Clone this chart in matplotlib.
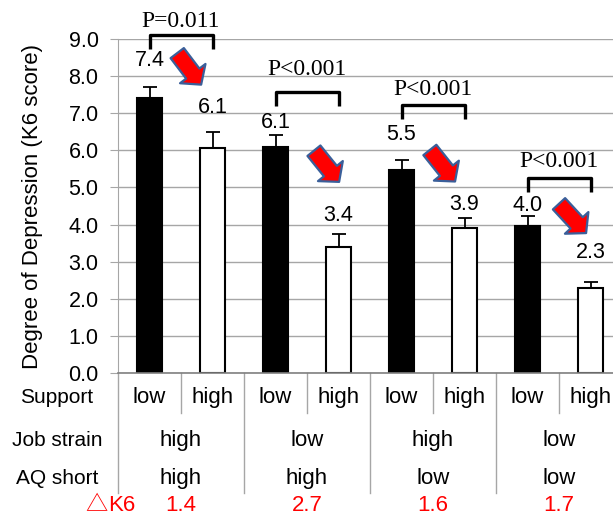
import numpy as np
import matplotlib.pyplot as plt
from matplotlib.patches import FancyArrowPatch

# data
support = ['low', 'high'] * 4
job_strain = ['high', 'low', 'high', 'low']
aq_short = ['high', 'high', 'low', 'low']
delta_k6 = ['1.4', '2.7', '1.6', '1.7']
k6_mean = [7.42, 6.07, 6.08, 3.40, 5.48, 3.90, 3.95, 2.28]
k6_err = [0.28, 0.43, 0.32, 0.35, 0.27, 0.27, 0.29, 0.17]
value_labels = ['7.4', '6.1', '6.1', '3.4', '5.5', '3.9', '4.0', '2.3']
p_labels = ['P=0.011', 'P<0.001', 'P<0.001', 'P<0.001']

# layout of the annotations (data units)
label_y = [8.41, 7.15, 6.75, 4.25, 6.42, 4.54, 4.52, 3.25]
bracket_top = [9.11, 7.57, 7.22, 5.26]
bracket_drop = 0.37
p_text_y = [9.46, 8.17, 7.63, 5.69]
arrows = [((0.44, 8.62), (0.82, 7.77)),
          ((2.61, 5.99), (3.01, 5.15)),
          ((4.45, 6.01), (4.85, 5.16)),
          ((6.50, 4.56), (6.93, 3.77))]
row_y = [-0.67, -1.81, -2.83, -3.56]

sans = ['Liberation Sans', 'DejaVu Sans']
serif = ['Liberation Serif', 'DejaVu Serif']
grid_c = '#a6a6a6'

fig = plt.figure(figsize=(6.13, 5.17), dpi=100)
ax = fig.add_axes([118 / 613, 1 - 373 / 517, 504 / 613, 334 / 517])

x = np.arange(len(k6_mean))
colors = ['black' if s == 'low' else 'white' for s in support]
ax.bar(x, k6_mean, width=0.4, color=colors, edgecolor='black', linewidth=1.5, zorder=3)
ax.errorbar(x, k6_mean, yerr=[np.zeros(len(x)), k6_err], fmt='none', ecolor='black',
            elinewidth=1.3, capsize=5, capthick=1.3, zorder=4)

ax.set_xlim(-0.5, 7.5)
ax.set_ylim(0, 9)
ax.set_yticks(np.arange(0, 10))
ax.set_yticklabels(['%.1f' % v for v in np.arange(0, 10)], family=sans, fontsize=15.5)
ax.set_xticks([])
ax.tick_params(axis='y', length=6, color=grid_c, pad=8)
ax.yaxis.grid(True, color=grid_c, linewidth=1)
ax.set_axisbelow(True)
for s in ['top', 'right', 'bottom']:
    ax.spines[s].set_visible(False)
ax.spines['left'].set_color(grid_c)

fig.text(33 / 613, 0.60, 'Degree of Depression (K6 score)', rotation=90,
         ha='center', va='center', family=sans, fontsize=16)

# value labels
for i in range(len(x)):
    ax.text(x[i], label_y[i], value_labels[i], ha='center', va='center',
            family=sans, fontsize=15.5, clip_on=False)

# brackets with p values
for g in range(4):
    a, b = 2 * g, 2 * g + 1
    t = bracket_top[g]
    ax.plot([a, a, b, b], [t - bracket_drop, t, t, t - bracket_drop], color='black',
            linewidth=2.4, solid_joinstyle='round', solid_capstyle='butt', clip_on=False, zorder=5)
    ax.text((a + b) / 2, p_text_y[g], p_labels[g], ha='center', va='center',
            family=serif, fontsize=17, clip_on=False)

# red arrows
for tail, tip in arrows:
    arr = FancyArrowPatch(tail, tip, arrowstyle='simple,head_length=0.5,head_width=1.15,tail_width=0.6',
                          mutation_scale=20, facecolor='red', edgecolor='#3a5f9a',
                          linewidth=1.6, shrinkA=0, shrinkB=0, clip_on=False, zorder=6)
    ax.add_patch(arr)

# table under the chart
ax.plot([-0.5, 7.5], [0, 0], color='#808080', linewidth=1.2, clip_on=False, zorder=4)
for i in range(len(x)):
    ax.text(x[i], row_y[0], support[i], ha='center', va='center', family=sans,
            fontsize=16, clip_on=False)
for g in range(4):
    ax.plot([2 * g + 0.5] * 2, [0, -1.08], color=grid_c, linewidth=1, clip_on=False)
    ax.plot([2 * g - 0.5] * 2, [0, -3.23], color=grid_c, linewidth=1, clip_on=False)
    cx = 2 * g + 0.5
    ax.text(cx, row_y[1], job_strain[g], ha='center', va='center', family=sans,
            fontsize=16, clip_on=False)
    ax.text(cx, row_y[2], aq_short[g], ha='center', va='center', family=sans,
            fontsize=16, clip_on=False)
    ax.text(cx, row_y[3], delta_k6[g], ha='center', va='center', family=sans,
            fontsize=16, color='red', clip_on=False)

for lab, yy in zip(['Support', 'Job strain', 'AQ short'], row_y[:3]):
    ax.text(-1.47, yy, lab, ha='center', va='center', family=sans, fontsize=15, clip_on=False)
ax.text(-0.67, row_y[3], '\u25b3', ha='right', va='center',
        family=['Noto Sans CJK JP', 'DejaVu Sans'], fontsize=16, color='red', clip_on=False)
ax.text(-0.66, row_y[3], 'K6', ha='left', va='center', family=sans,
        fontsize=16, color='red', clip_on=False)

fig.savefig('out.png', dpi=100)
